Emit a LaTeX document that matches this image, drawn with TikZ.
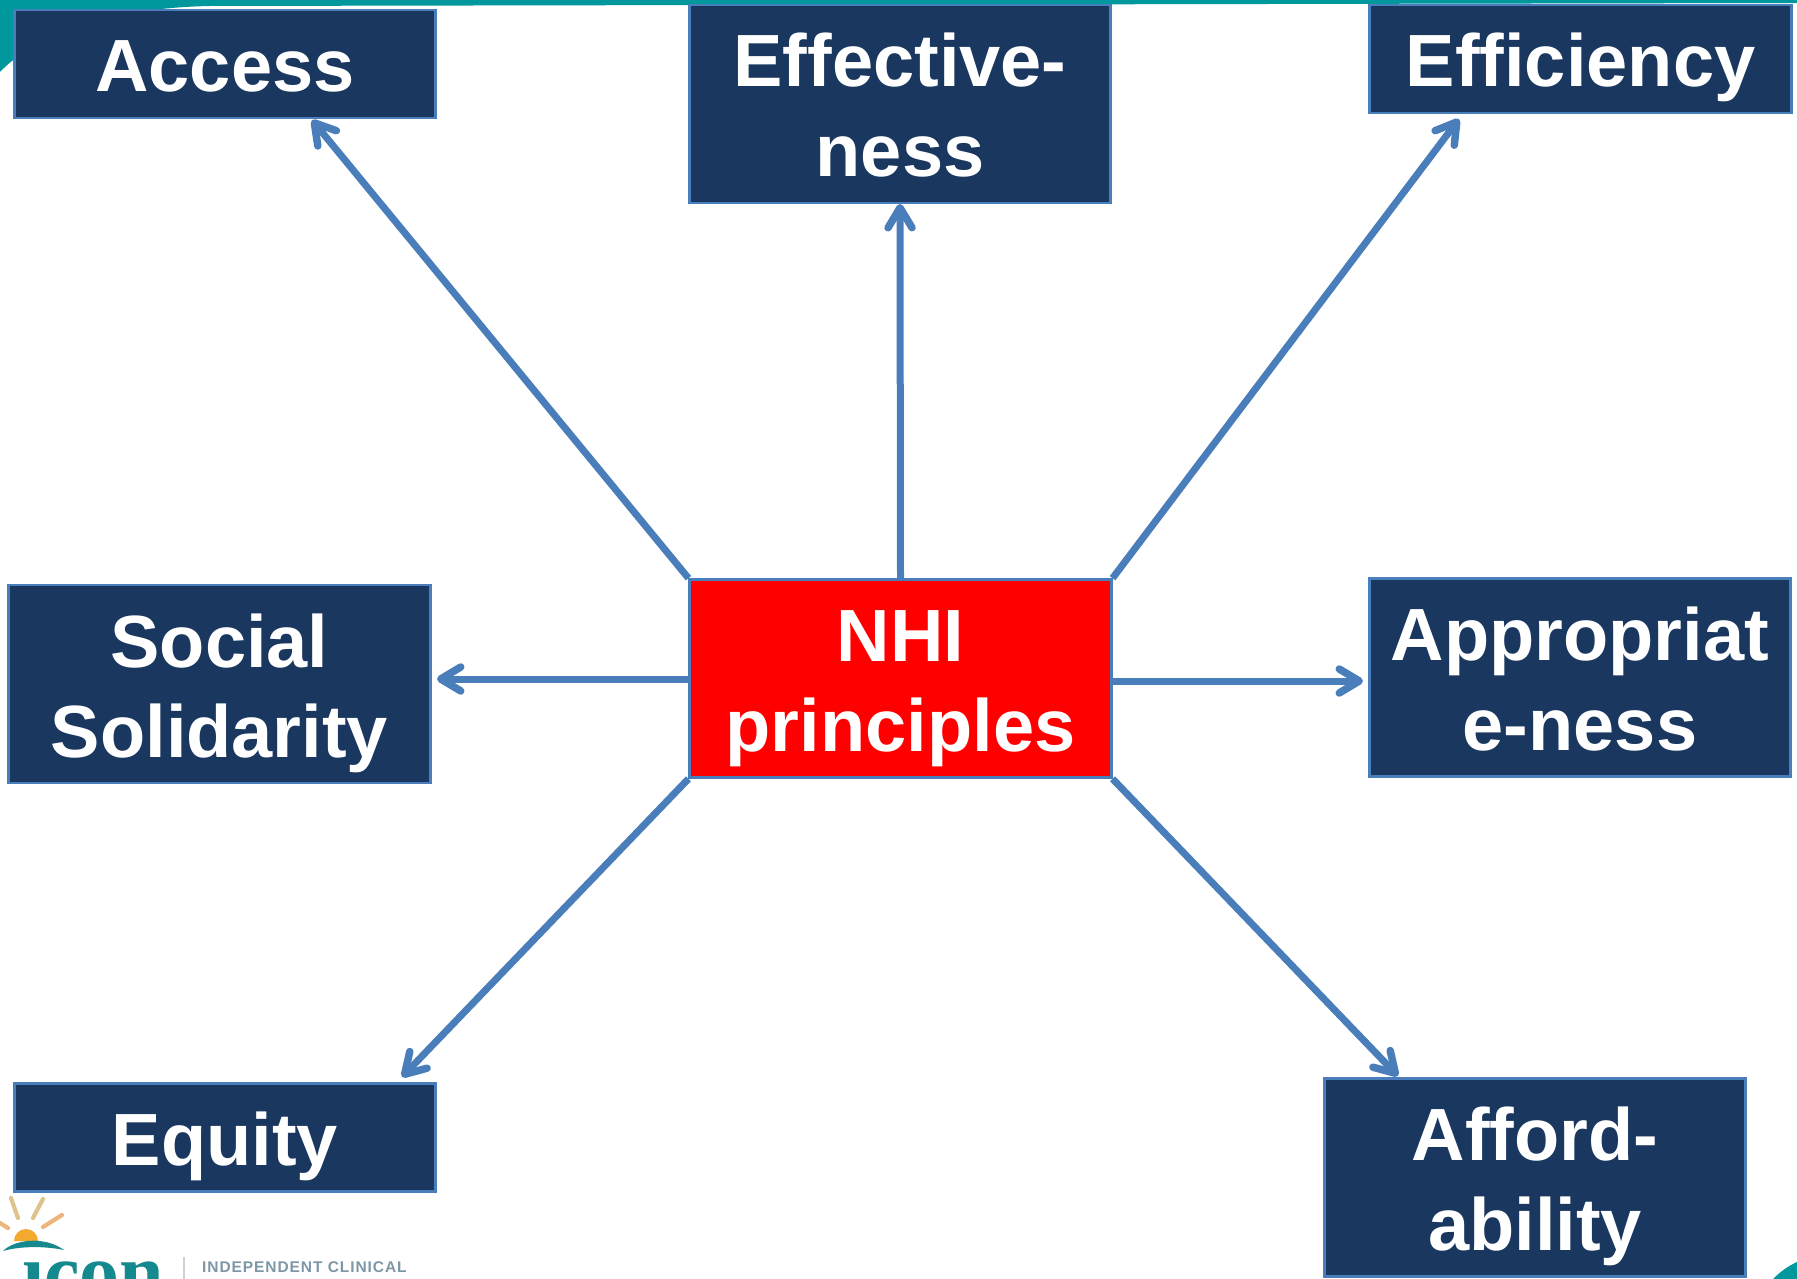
\documentclass[tikz,border=0pt]{standalone}
\usepackage{fontspec}
\setmainfont{Liberation Sans}[Ligatures=NoCommon]
\newfontfamily\logoserif{Liberation Serif}
\newfontfamily\logosans{Liberation Sans}[LetterSpace=6]
\usetikzlibrary{arrows.meta}
\definecolor{navybox}{HTML}{1A3760}
\definecolor{edgeblue}{HTML}{4A7EBB}
\definecolor{teal}{HTML}{00979D}
\definecolor{redbox}{HTML}{FF0000}
\definecolor{logoteal}{HTML}{148A8E}
\definecolor{logogrey}{HTML}{7E97A6}
\definecolor{raytan}{HTML}{DCC48C}
\definecolor{rayorange}{HTML}{EDB47C}
\definecolor{sunorange}{HTML}{F3A82E}
\newcommand{\oneline}[1]{\rule{0pt}{56pt}\smash{#1}}
\newcommand{\twolines}[2]{\rule{0pt}{56pt}\smash{#1}\\\smash{#2}}
\tikzset{
  boxbase/.style={draw=edgeblue,line width=2.6pt,text=white,inner sep=0pt,minimum width=421.5pt,
    align=center,font=\fontsize{74}{90}\selectfont\bfseries},
  navy one/.style={boxbase,fill=navybox,minimum height=108pt},
  navy two/.style={boxbase,fill=navybox,minimum height=198pt},
  centre box/.style={boxbase,fill=redbox,minimum height=198pt},
  spoke/.style={draw=edgeblue,line width=7pt,line cap=butt,
    -{Straight Barb[length=20pt,width=24pt,round,line width=7.5pt]}},
  ray/.style={line width=4.2pt,line cap=round}
}
\begin{document}
\begin{tikzpicture}[x=1pt,y=-1pt]
\useasboundingbox (0,0) rectangle (1797,1279);
\clip (0,0) rectangle (1797,1279);
% slide background
\fill[teal] (0,0) -- (1797,0) -- (1797,3) -- (210,6) .. controls (100,8) and (30,40) .. (0,72) -- cycle;
\fill[teal] (1797,1262) .. controls (1788,1266) and (1780,1272) .. (1773,1279) -- (1797,1279) -- cycle;
% logo
\node[anchor=base west,inner sep=0pt,text=logoteal,font=\logoserif\bfseries\fontsize{80}{80}\selectfont] (logoword) at (22,1299) {icon};
\fill[white] (20,1234) rectangle (50,1256);
\draw[color=black!18,line width=1.5pt] (184,1257) -- (184,1279);
\node[anchor=base west,inner sep=0pt,text=logogrey,font=\logosans\bfseries\fontsize{15.5}{16}\selectfont] (logotext) at (202,1272) {INDEPENDENT CLINICAL};
\draw[ray,color=raytan] (11,1198) -- (18,1218);
\draw[ray,color=raytan] (43,1199) -- (33,1218);
\draw[ray,color=rayorange] (62,1215) -- (43,1227);
\draw[ray,color=rayorange] (0,1223) -- (8,1228);
\fill[sunorange] (14,1241) arc[start angle=180,end angle=0,radius=12pt] -- cycle;
\fill[logoteal] (3,1251) .. controls (15,1239) and (45,1236) .. (64,1250) .. controls (45,1246) and (20,1246) .. (3,1251) -- cycle;
% boxes
\node[navy one] (access) at (225,64) {\oneline{Access}};
\node[navy two] (effect) at (900,104) {\twolines{Effective-}{ness}};
\node[navy one] (effic) at (1580.5,59) {\oneline{Efficiency}};
\node[navy two] (social) at (219.5,684) {\twolines{Social}{Solidarity}};
\node[centre box] (nhi) at (900.5,678.5) {\twolines{NHI}{principles}};
\node[navy two] (approp) at (1580,677.5) {\twolines{Appropriat}{e-ness}};
\node[navy one] (equity) at (225,1137.5) {\oneline{Equity}};
\node[navy two] (afford) at (1535,1177.5) {\twolines{Afford-}{ability}};
% free ends of the spokes
\coordinate (tipaccess) at (312,120);
\coordinate (tipeffect) at (900,204);
\coordinate (tipeffic) at (1459,119);
\coordinate (tipsocial) at (437,679);
\coordinate (tipapprop) at (1363,681);
\coordinate (tipequity) at (402,1077);
\coordinate (tipafford) at (1398,1076);
\coordinate (outsocial) at (688,679);
\coordinate (outapprop) at (1113,681);
% connectors
\draw[spoke] (nhi.north west) -- (tipaccess);
\draw[spoke] (nhi.north) -- (tipeffect);
\draw[spoke] (nhi.north east) -- (tipeffic);
\draw[spoke] (outsocial) -- (tipsocial);
\draw[spoke] (outapprop) -- (tipapprop);
\draw[spoke] (nhi.south west) -- (tipequity);
\draw[spoke] (nhi.south east) -- (tipafford);
\end{tikzpicture}
\end{document}
